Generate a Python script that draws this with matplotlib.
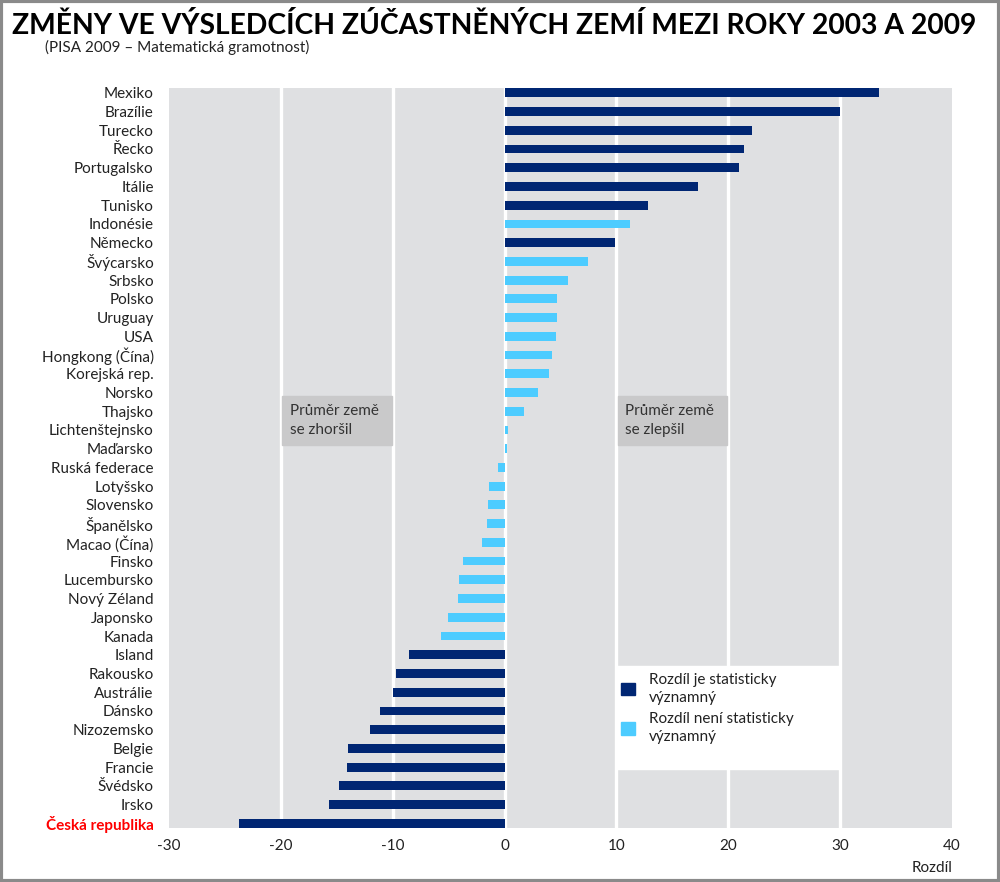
import matplotlib
matplotlib.use("Agg")
import matplotlib.pyplot as plt
from matplotlib.patches import Rectangle, Patch

plt.rcParams['font.family'] = ['Lato', 'DejaVu Sans']

# data
countries = ["Mexiko", "Brazílie", "Turecko", "Řecko", "Portugalsko", "Itálie",
             "Tunisko", "Indonésie", "Německo", "Švýcarsko", "Srbsko", "Polsko",
             "Uruguay", "USA", "Hongkong (Čína)", "Korejská rep.", "Norsko",
             "Thajsko", "Lichtenštejnsko", "Maďarsko", "Ruská federace",
             "Lotyšsko", "Slovensko", "Španělsko", "Macao (Čína)", "Finsko",
             "Lucembursko", "Nový Zéland", "Japonsko", "Kanada", "Island",
             "Rakousko", "Austrálie", "Dánsko", "Nizozemsko", "Belgie",
             "Francie", "Švédsko", "Irsko", "Česká republika"]
diffs = [33.5, 30.0, 22.1, 21.4, 21.0, 17.3, 12.8, 11.2, 9.9, 7.5, 5.7, 4.7,
         4.7, 4.6, 4.2, 4.0, 3.0, 1.7, 0.3, 0.2, -0.6, -1.4, -1.5, -1.6, -2.0,
         -3.7, -4.1, -4.2, -5.1, -5.7, -8.5, -9.7, -10.0, -11.1, -12.0, -14.0,
         -14.1, -14.8, -15.7, -23.7]
significant = [1, 1, 1, 1, 1, 1, 1, 0, 1, 0, 0, 0, 0, 0, 0, 0, 0, 0, 0, 0,
               0, 0, 0, 0, 0, 0, 0, 0, 0, 0, 1, 1, 1, 1, 1, 1, 1, 1, 1, 1]
xticks = [-30, -20, -10, 0, 10, 20, 30, 40]

dark = '#002673'
light = '#4DCCFF'
bg = '#DFE0E2'

fig = plt.figure(figsize=(10, 8.82), dpi=100)
ax = fig.add_axes([0.169, 0.0612, 0.783, 0.8389])
ax.set_facecolor(bg)

ypos = list(range(len(countries)))
colors = [dark if s else light for s in significant]
ax.barh(ypos, diffs, height=0.47, color=colors, zorder=3)

# white vertical grid lines
for v in [-20, -10, 0, 10, 20, 30]:
    ax.axvline(v, color='white', lw=2.4, zorder=1)

ax.set_xlim(-30, 40)
ax.set_ylim(39.25, -0.25)
ax.set_yticks(ypos)
ax.set_yticklabels(countries, fontsize=11, color='#222222')
ax.set_xticks(xticks)
ax.set_xticklabels([str(t) for t in xticks], fontsize=11, color='#222222')
ax.tick_params(length=0, axis='y', pad=11)
ax.tick_params(length=0, axis='x', pad=8)
for s in ax.spines.values():
    s.set_visible(False)

# Czech Republic label in red bold
lab = ax.get_yticklabels()[-1]
lab.set_color('red')
lab.set_fontweight('bold')

# annotation boxes
ax.add_patch(Rectangle((-19.9, 16.2), 9.8, 2.6, color='#C9C9CA', zorder=2))
ax.text(-19.2, 17.5, "Průměr země\nse zhoršil", fontsize=11, color='#333333',
        va='center', ha='left', linespacing=1.45, zorder=4)
ax.add_patch(Rectangle((10.1, 16.2), 9.8, 2.6, color='#C9C9CA', zorder=2))
ax.text(10.8, 17.5, "Průměr země\nse zlepšil", fontsize=11, color='#333333',
        va='center', ha='left', linespacing=1.45, zorder=4)

# legend box
ax.add_patch(Rectangle((10, 30.6), 20, 5.5, color='white', zorder=2))
handles = [Patch(color=dark), Patch(color=light)]
labels = ["Rozdíl je statisticky\nvýznamný", "Rozdíl není statisticky\nvýznamný"]
leg = ax.legend(handles, labels, loc='upper left', bbox_to_anchor=(0.57, 0.218),
                frameon=False, fontsize=11, handlelength=0.9, handleheight=0.9,
                handletextpad=0.9, labelspacing=0.5, borderaxespad=0)
for t in leg.get_texts():
    t.set_color('#222222')
    t.set_linespacing(1.35)

ax.text(1.0, -0.045, "Rozdíl", transform=ax.transAxes, ha='right', va='top',
        fontsize=11, color='#222222')

fig.text(0.012, 0.971, "ZMĚNY VE VÝSLEDCÍCH ZÚČASTNĚNÝCH ZEMÍ MEZI ROKY 2003 A 2009",
         fontsize=20.3, fontweight='bold', ha='left', va='center', color='black')
fig.text(0.045, 0.946, "(PISA 2009 – Matematická gramotnost)", fontsize=11,
         ha='left', va='center', color='#222222')

# outer frame
fig.add_artist(Rectangle((0.001, 0.001), 0.998, 0.998, transform=fig.transFigure,
                         fill=False, edgecolor='#8A8A8A', lw=3))

fig.savefig("out.png", dpi=100)
